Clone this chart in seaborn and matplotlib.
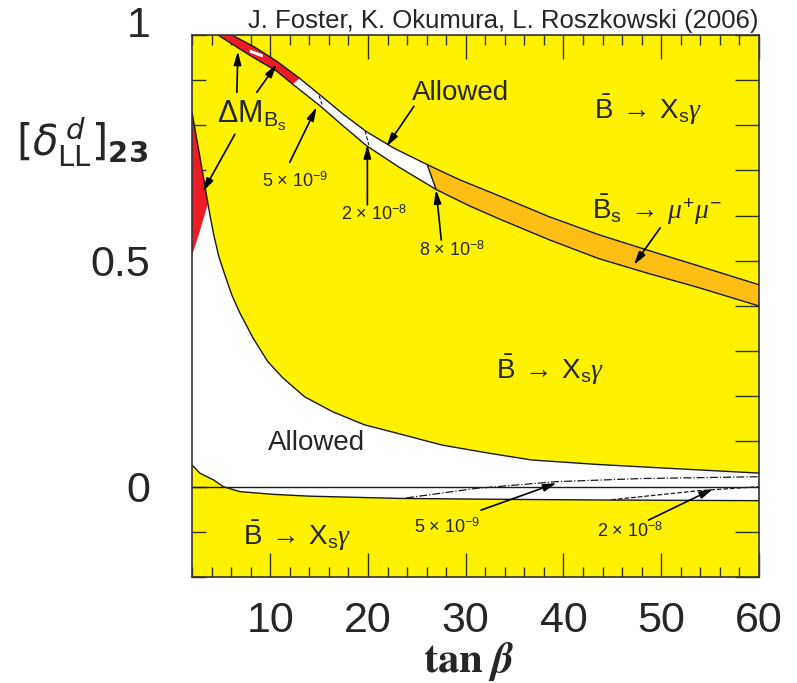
import numpy as np
import matplotlib
matplotlib.use('Agg')
import matplotlib.pyplot as plt
import matplotlib.transforms as mtransforms
from matplotlib.ticker import MultipleLocator
import seaborn as sns

sns.set_style('ticks')
plt.rcParams['font.family'] = ['Liberation Sans', 'DejaVu Sans']
plt.rcParams['mathtext.fontset'] = 'custom'
plt.rcParams['mathtext.rm'] = 'Liberation Sans'
plt.rcParams['mathtext.it'] = 'Liberation Serif:italic'
plt.rcParams['mathtext.bf'] = 'Liberation Sans:bold'

YELLOW = '#FFF200'
ORANGE = '#FFBE14'
RED = '#ED1C24'
LINE = '#1a1a1a'

# ---- data (tan beta, delta) ----
# narrow strip at the top (Delta M_Bs / allowed / Bs->mumu)
band_up_x = [5.67, 6.08, 8.42, 10.66, 13.01, 15.05, 17.39, 19.84, 22.69, 26.06,
             29.32, 33.40, 38.49, 43.59, 48.69, 53.78, 60.0]
band_up_y = [1.006, 1.0, 0.973, 0.942, 0.904, 0.868, 0.826, 0.786, 0.749, 0.713,
             0.680, 0.644, 0.598, 0.558, 0.523, 0.489, 0.447]
band_lo_x = [4.45, 4.65, 7.91, 10.66, 12.30, 15.05, 17.39, 19.84, 23.20, 26.97,
             30.34, 33.40, 38.49, 43.59, 48.69, 53.78, 60.0]
band_lo_y = [1.006, 1.0, 0.955, 0.920, 0.891, 0.844, 0.800, 0.755, 0.707, 0.658,
             0.622, 0.593, 0.547, 0.505, 0.472, 0.441, 0.400]
# white streak inside the red part of the strip
streak_x = [7.91, 9.24]
streak_top = [0.968, 0.957]
streak_bot = [0.961, 0.950]

# big allowed region, b -> s gamma boundaries
sg_up_x = [2.0, 2.31, 2.71, 3.12, 3.63, 3.83, 4.24, 4.75, 5.36, 6.08, 6.89, 8.22,
           9.75, 11.28, 13.52, 16.37, 19.63, 23.2, 27.59, 32.4, 36.76, 43.6, 50.42, 60.0]
sg_up_y = [0.829, 0.791, 0.742, 0.691, 0.627, 0.602, 0.556, 0.509, 0.469, 0.424, 0.385,
           0.330, 0.277, 0.241, 0.199, 0.166, 0.137, 0.117, 0.092, 0.074, 0.059, 0.049,
           0.041, 0.030]
sg_lo_x = [2.0, 2.8, 4.2, 5.2, 6.9, 10.3, 14.0, 23.2, 33.4, 43.6, 60.0]
sg_lo_y = [0.048, 0.030, 0.015, 0.0, -0.011, -0.017, -0.021, -0.026, -0.028, -0.0295, -0.031]

# lower edge of the Delta M_Bs wedge on the left
dm_lo_x = [2.0, 2.82, 3.63]
dm_lo_y = [0.511, 0.567, 0.627]

# BR(Bs->mumu) contours near zero
c5e9_x = [23.9, 31.0, 39.2, 48.0, 60.0]
c5e9_y = [-0.025, -0.004, 0.011, 0.018, 0.022]
c2e8_x = [44.9, 53.8, 60.0]
c2e8_y = [-0.029, -0.009, 0.0]

x_ticks = [10, 20, 30, 40, 50, 60]
y_ticks = [-0.2, -0.1, 0.0, 0.1, 0.2, 0.3, 0.4, 0.5, 0.6, 0.7, 0.8, 0.9, 1.0]
y_ticklabels = ['', '', '0', '', '', '', '', '0.5', '', '', '', '', '1']


def poly(ax, xs_a, ys_a, xs_b, ys_b, color):
    # closed region: edge a forward, edge b backwards
    px = list(xs_a) + list(xs_b)[::-1]
    py = list(ys_a) + list(ys_b)[::-1]
    ax.fill(px, py, color=color, lw=0, zorder=2)


fig = plt.figure(figsize=(7.97, 6.83), dpi=100)
ax = fig.add_axes([0.2409, 0.1552, 0.7114, 0.7936])
ax.set_facecolor(YELLOW)
ax.set_xlim(2, 60)
ax.set_ylim(-0.2, 1.0)

# lower allowed region (white) + red wedge
poly(ax, sg_up_x + [60.0], sg_up_y + [sg_lo_y[-1]], sg_lo_x, sg_lo_y, 'white')
poly(ax, sg_up_x[:5], sg_up_y[:5], dm_lo_x, dm_lo_y, RED)

# upper strip: white, red part, orange part
poly(ax, band_up_x, band_up_y, band_lo_x, band_lo_y, 'white')
poly(ax, band_up_x[:5], band_up_y[:5], band_lo_x[:5], band_lo_y[:5], RED)
poly(ax, streak_x, streak_top, streak_x, streak_bot, 'white')
poly(ax, band_up_x[9:], band_up_y[9:], band_lo_x[9:], band_lo_y[9:], ORANGE)

# boundary lines
for xs, ys in [(band_up_x, band_up_y), (band_lo_x, band_lo_y),
               (sg_up_x, sg_up_y), (sg_lo_x, sg_lo_y)]:
    sns.lineplot(x=xs, y=ys, ax=ax, color=LINE, lw=1.0, sort=False,
                 estimator=None, zorder=3)
sns.lineplot(x=[band_up_x[9], band_lo_x[9]], y=[band_up_y[9], band_lo_y[9]],
             ax=ax, color=LINE, lw=1.0, sort=False, estimator=None, zorder=3)
ax.axhline(0, color=LINE, lw=1.0, zorder=3)
sns.lineplot(x=c5e9_x, y=c5e9_y, ax=ax, color=LINE, lw=0.9, linestyle='-.',
             sort=False, estimator=None, zorder=3)
sns.lineplot(x=c2e8_x, y=c2e8_y, ax=ax, color=LINE, lw=0.9, linestyle='--',
             sort=False, estimator=None, zorder=3)
# small contour marks across the strip
for xs, ys in [([15.0, 15.3], [0.866, 0.846]), ([19.7, 20.1], [0.788, 0.756])]:
    sns.lineplot(x=xs, y=ys, ax=ax, color=LINE, lw=0.8, linestyle='--',
                 sort=False, estimator=None, zorder=3)

# labels inside the plot
big = 20
small = 13
ax.text(29.5, 0.872, 'Allowed', fontsize=big, ha='center', va='center', zorder=5)
ax.text(14.7, 0.097, 'Allowed', fontsize=big, ha='center', va='center', zorder=5)
bxs = r'$\bar{\mathrm{B}}\;\rightarrow\;\mathrm{X}_{\mathrm{s}}\gamma$'
ax.text(48.6, 0.835, bxs, fontsize=big, ha='center', va='center', zorder=5)
ax.text(38.6, 0.258, bxs, fontsize=big, ha='center', va='center', zorder=5)
ax.text(12.7, -0.108, bxs, fontsize=big, ha='center', va='center', zorder=5)
ax.text(49.6, 0.612, r'$\bar{\mathrm{B}}_{\mathrm{s}}\;\rightarrow\;\mu^{+}\mu^{-}$',
        fontsize=big, ha='center', va='center', zorder=5)
ax.text(8.1, 0.82, r'$\Delta\mathrm{M}_{\mathrm{B_s}}$',
        fontsize=22, ha='center', va='center', zorder=5)
ax.text(12.5, 0.677, r'$5\,\times\,10^{-9}$', fontsize=small, ha='center', va='center', zorder=5)
ax.text(20.6, 0.604, r'$2\,\times\,10^{-8}$', fontsize=small, ha='center', va='center', zorder=5)
ax.text(28.6, 0.524, r'$8\,\times\,10^{-8}$', fontsize=small, ha='center', va='center', zorder=5)
ax.text(28.1, -0.089, r'$5\,\times\,10^{-9}$', fontsize=small, ha='center', va='center', zorder=5)
ax.text(46.85, -0.098, r'$2\,\times\,10^{-8}$', fontsize=small, ha='center', va='center', zorder=5)

arrows = [
    ((24.7, 0.842), (21.9, 0.753)),
    ((6.59, 0.873), (6.69, 0.964)),
    ((8.63, 0.873), (10.66, 0.935)),
    ((6.38, 0.780), (3.12, 0.653)),
    ((12.0, 0.718), (14.74, 0.840)),
    ((19.94, 0.624), (19.94, 0.757)),
    ((27.5, 0.546), (26.97, 0.657)),
    ((49.9, 0.573), (47.2, 0.491)),
    ((31.56, -0.052), (39.3, 0.008)),
    ((48.7, -0.074), (55.3, -0.005)),
]
for tail, head in arrows:
    ax.annotate('', xy=head, xytext=tail, zorder=6,
                arrowprops=dict(arrowstyle='-|>,head_length=0.8,head_width=0.22',
                                color='black', lw=1.2, shrinkA=0, shrinkB=0))

# axes, ticks
for sp in ax.spines.values():
    sp.set_color('#333333')
    sp.set_linewidth(1.2)
    sp.set_zorder(7)
ax.set_xticks(x_ticks)
ax.set_xticklabels([str(t) for t in x_ticks])
ax.xaxis.set_minor_locator(MultipleLocator(2))
ax.set_yticks(y_ticks)
ax.set_yticklabels(y_ticklabels)
ax.tick_params(axis='x', which='major', direction='in', length=17, width=1.0,
               top=True, labelsize=31, pad=17, color='#333333')
ax.tick_params(axis='x', which='minor', direction='in', length=7, width=1.0,
               top=True, color='#333333')
ax.tick_params(axis='y', which='major', direction='in', length=10, width=1.0,
               right=False, labelsize=31, pad=30, color='#333333')
sec = ax.secondary_yaxis('right')
sec.set_yticks(y_ticks)
sec.tick_params(direction='in', length=17, width=1.0, labelright=False, color='#333333')
sec.spines['right'].set_visible(False)

# lift the "1" a bit, like the original
lab = ax.get_yticklabels()[-1]
lab.set_transform(lab.get_transform() +
                  mtransforms.ScaledTranslation(0, 0.13, fig.dpi_scale_trans))

ax.set_ylabel(r'$[\delta^{\,d}_{\mathrm{LL}}]_{\mathbf{23}}$', rotation=0,
              fontsize=30, math_fontfamily='dejavusans', ha='center', va='center')
ax.yaxis.set_label_coords(-0.194, 0.803)
ax.set_xlabel(r'$\mathbf{tan}\;\mathbfit{\beta}$', fontsize=31, math_fontfamily='stix')
ax.xaxis.set_label_coords(0.4885, -0.155)
ax.xaxis.label.set_va('center')

fig.text(758 / 797, 1 - 28 / 683, 'J. Foster, K. Okumura, L. Roszkowski (2006)',
         fontsize=18.5, ha='right', va='baseline')

fig.savefig('out.png', dpi=100)
